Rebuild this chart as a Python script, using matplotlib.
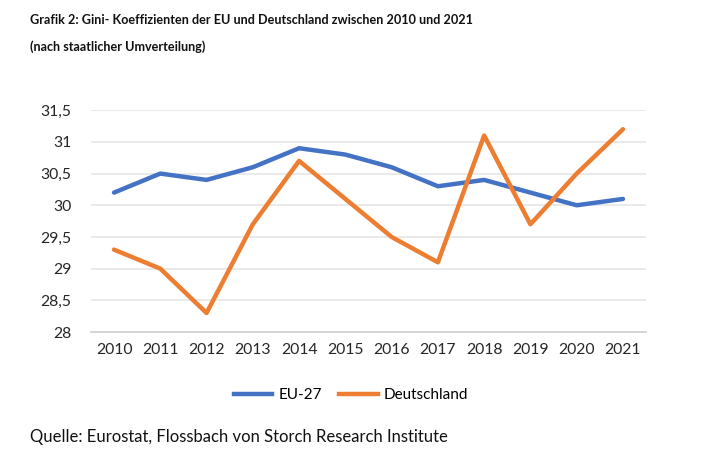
import matplotlib.pyplot as plt
from matplotlib.lines import Line2D

years = ["2010", "2011", "2012", "2013", "2014", "2015",
         "2016", "2017", "2018", "2019", "2020", "2021"]
eu27 = [30.2, 30.5, 30.4, 30.6, 30.9, 30.8, 30.6, 30.3, 30.4, 30.2, 30.0, 30.1]
deutschland = [29.3, 29.0, 28.3, 29.7, 30.7, 30.1, 29.5, 29.1, 31.1, 29.7, 30.5, 31.2]
yticks = [28, 28.5, 29, 29.5, 30, 30.5, 31, 31.5]

BLUE = "#4472C4"
ORANGE = "#ED7D31"

plt.rcParams["font.family"] = ["Lato", "DejaVu Sans"]

fig = plt.figure(figsize=(7.1, 4.75), dpi=100)
ax = fig.add_axes([0.128, 0.301, 0.782, 0.467])

x = range(len(years))
ax.plot(x, eu27, color=BLUE, linewidth=3.2, solid_capstyle="round", label="EU-27")
ax.plot(x, deutschland, color=ORANGE, linewidth=3.2, solid_capstyle="round",
        label="Deutschland")

ax.set_xlim(-0.5, len(years) - 0.5)
ax.set_ylim(28, 31.5)
ax.set_yticks(yticks)
ax.set_yticklabels([f"{v:g}".replace(".", ",") for v in yticks])
ax.set_xticks(list(x))
ax.set_xticklabels(years)
ax.tick_params(length=0, labelsize=11.3, colors="#262626", pad=8)
ax.tick_params(axis="y", pad=14)
ax.grid(axis="y", color="#e6e6e6", linewidth=1.2)
ax.set_axisbelow(True)
for s in ["top", "right", "left"]:
    ax.spines[s].set_visible(False)
ax.spines["bottom"].set_color("#d0d0d0")
ax.spines["bottom"].set_linewidth(1.2)

handles = [Line2D([], [], color=BLUE, linewidth=3.2),
           Line2D([], [], color=ORANGE, linewidth=3.2)]
fig.legend(handles, ["EU-27", "Deutschland"], loc="center",
           bbox_to_anchor=(351 / 710, 1 - 395 / 475), ncol=2, frameon=False,
           fontsize=11, handlelength=2.55, columnspacing=1.1, handletextpad=0.4)

fig.text(30 / 710, 1 - 20 / 475, "Grafik 2: Gini- Koeffizienten der EU und Deutschland zwischen 2010 und 2021",
         fontsize=9.1, fontweight="bold", va="center", ha="left", color="#111111")
fig.text(30 / 710, 1 - 47 / 475, "(nach staatlicher Umverteilung)",
         fontsize=9.1, fontweight="bold", va="center", ha="left", color="#111111")
fig.text(30 / 710, 1 - 437 / 475, "Quelle: Eurostat, Flossbach von Storch Research Institute",
         fontsize=12, va="center", ha="left", color="#111111")

fig.savefig("out.png", dpi=100)
